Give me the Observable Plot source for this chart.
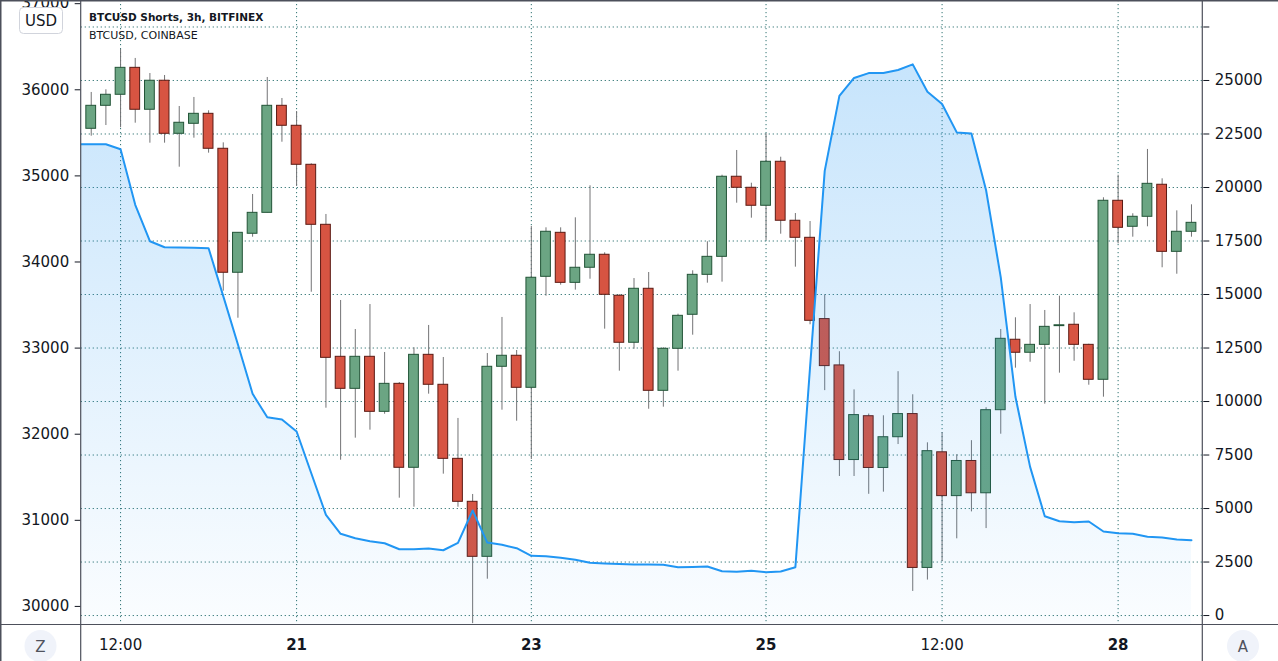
<!DOCTYPE html>
<html>
<head>
<meta charset="utf-8">
<script src="https://cdn.jsdelivr.net/npm/d3@7"></script>
<script src="https://cdn.jsdelivr.net/npm/@observablehq/plot@0.6"></script>
<style>
html, body { margin: 0; padding: 0; background: #ffffff; }
#chart { position: relative; width: 1278px; height: 661px; overflow: hidden; }
</style>
</head>
<body>
<div id="chart"></div>
<script>
// ---------- DATA ----------
// BTCUSD, COINBASE — 3h candles from 2021-01-19 06:00 UTC to 2021-01-28 15:00 UTC
const candleFirst = "2021-01-19T06:00Z";
const candleEnd = "2021-01-28T16:00Z";
const openP  = [35547,35814,35942,36255,35768,36105,35489,35605,35721,35315,33875,34328,34571,35814,35582,35129,34432,32899,32527,32899,32260,32585,31610,32922,32574,31714,31215,30576,32783,32911,32539,33828,34339,33758,33933,34084,33608,33062,33689,32504,32992,33387,33851,34060,34990,34862,34653,35164,34479,34281,33337,32799,31700,32209,31608,31965,32234,30447,31790,31281,31689,31314,32279,33097,32946,33038,33255,33271,33038,32632,34711,34409,34525,34897,34118,34351];
const highP  = [35969,36000,36468,36364,36189,36166,35806,35911,35756,35384,34339,34784,36143,35899,35748,35140,34552,33553,33216,33506,32949,32600,33004,33263,32891,32183,31300,32937,33356,32972,34412,34397,34397,34513,34885,34107,33620,33808,33878,33004,33394,33898,34235,35008,35295,34915,35490,35217,34563,34470,33618,32958,32515,32234,32214,32726,32458,31900,32019,31762,31925,32308,33216,33352,33506,33437,33603,33410,33045,34746,35008,34560,35307,34966,34594,34664];
const lowP   = [35461,35585,35559,35612,35380,35380,35101,35438,35264,33661,33347,34288,34571,35391,34877,33649,32302,31698,31954,32047,32232,31257,31152,32465,31536,31152,29800,30316,32279,32151,31706,33603,33731,33673,33800,33220,32732,32987,32290,32314,32732,33150,33754,33766,34683,34509,34250,34323,33940,33271,32506,31509,31509,31302,31327,31880,30174,30306,30521,30785,31098,30904,32000,32767,32836,32349,32709,32847,32569,32430,34211,34288,34409,33933,33858,34288];
const closeP = [35814,35942,36255,35768,36105,35489,35617,35721,35315,33875,34339,34571,35814,35582,35129,34432,32887,32527,32899,32260,32585,31610,32922,32574,31714,31215,30576,32783,32911,32539,33817,34351,33758,33933,34084,33619,33062,33689,32504,32992,33375,33851,34060,34990,34862,34653,35164,34479,34281,33317,32791,31700,32222,31608,31965,32234,30447,31803,31281,31689,31314,32279,33108,32946,33038,33247,33265,33038,32632,34711,34397,34525,34908,34118,34351,34455];

// BTCUSD Shorts, 3h, BITFINEX — from 2021-01-19 03:00 UTC
const shortsFirst = "2021-01-19T03:00Z";
const shortsValues = [22023,22023,22023,21790,19192,17491,17210,17196,17187,17164,14925,12664,10360,9266,9159,8598,6650,4706,3818,3612,3472,3379,3098,3098,3131,3051,3397,4907,3411,3304,3145,2790,2771,2696,2603,2463,2430,2407,2383,2383,2369,2257,2266,2290,2070,2042,2089,2023,2056,2260,11600,20776,24280,25117,25346,25346,25491,25752,24477,23902,22575,22528,19870,15800,10220,6945,4640,4407,4360,4393,3925,3846,3818,3678,3645,3551,3519];

// Axes
const xTickDates  = ["2021-01-19T12:00Z","2021-01-21T00:00Z","2021-01-23T00:00Z","2021-01-25T00:00Z","2021-01-26T12:00Z","2021-01-28T00:00Z"];
const xTickLabels = ["12:00","21","23","25","12:00","28"];
const priceTicks  = [30000,31000,32000,33000,34000,35000,36000,37000];
const shortsTicks = [0,2500,5000,7500,10000,12500,15000,17500,20000,22500,25000,27500];
const shortsTickLabels = ["0","2500","5000","7500","10000","12500","15000","17500","20000","22500","25000",""];

const titleMain = "BTCUSD Shorts, 3h, BITFINEX";
const titleSub = "BTCUSD, COINBASE";
const currency = "USD";

// ---------- LAYOUT ----------
const W = 1278, H = 661, ML = 80.7, MR = 75.7, MB = 37;
const xDomain = [new Date("2021-01-19T03:57Z"), new Date("2021-01-28T17:19Z")];
const yDomain = [29790, 37037];
// right (shorts) axis aligned onto the price axis
const shortsToPrice = d3.scaleLinear([0, 25000], [29894, 36108]);

const GREEN = "#6ba583", GREEN_B = "#225437", RED = "#d75442", RED_B = "#5b1a13";
const WICK = "#737375", LINE = "#2196f3", GRID = "#2f7372", AXIS = "#4d505b", TEXT = "#131722";

const candleTimes = d3.utcHour.every(3).range(new Date(candleFirst), new Date(candleEnd));
const candles = candleTimes.map((t, i) => ({t, o: openP[i], h: highP[i], l: lowP[i], c: closeP[i], up: closeP[i] >= openP[i]}));
const shortsTimes = d3.utcHour.every(3).range(new Date(shortsFirst), new Date(candleEnd));
const shorts = shortsTimes.map((t, i) => ({t, v: shortsValues[i], p: shortsToPrice(shortsValues[i])}));

const xTicks = xTickDates.map(s => new Date(s));
const xLabelOf = new Map(xTicks.map((d, i) => [+d, xTickLabels[i]]));
const dayTicks = xTicks.filter((d, i) => !xTickLabels[i].includes(":"));
const hourTicks = xTicks.filter((d, i) => xTickLabels[i].includes(":"));
const shortsTickPrices = shortsTicks.map(v => shortsToPrice(v));
const shortsLabelOf = new Map(shortsTickPrices.map((p, i) => [p, shortsTickLabels[i]]));

const gridStyle = {stroke: GRID, strokeOpacity: 1, strokeDasharray: "1.2,2.8", strokeWidth: 1};

const defsMark = () => {
  const defs = d3.create("svg:defs");
  const g = defs.append("linearGradient").attr("id", "shortsGrad")
    .attr("gradientUnits", "userSpaceOnUse").attr("x1", 0).attr("y1", 0).attr("x2", 0).attr("y2", H - MB);
  g.append("stop").attr("offset", "0%").attr("stop-color", LINE).attr("stop-opacity", 0.28);
  g.append("stop").attr("offset", "100%").attr("stop-color", LINE).attr("stop-opacity", 0.02);
  return defs.node();
};

const bodyX1 = d => d3.utcMinute.offset(d.t, -60);
const bodyX2 = d => d3.utcMinute.offset(d.t, 60);

const plot = Plot.plot({
  width: W, height: H,
  marginLeft: ML, marginRight: MR, marginTop: 0, marginBottom: MB,
  style: {fontFamily: "DejaVu Sans", fontSize: "15px", color: TEXT, background: "#ffffff"},
  x: {type: "utc", domain: xDomain},
  y: {domain: yDomain},
  marks: [
    defsMark,
    Plot.gridY({ticks: shortsTickPrices, ...gridStyle}),
    Plot.gridX({ticks: xTicks, ...gridStyle}),
    Plot.ruleX(candles, {x: "t", y1: "l", y2: "h", stroke: WICK, strokeWidth: 1, clip: true}),
    Plot.rect(candles, {filter: d => d.up, x1: bodyX1, x2: bodyX2, y1: "o", y2: "c", fill: GREEN, stroke: GREEN_B, strokeWidth: 1}),
    Plot.rect(candles, {filter: d => !d.up, x1: bodyX1, x2: bodyX2, y1: "o", y2: "c", fill: RED, stroke: RED_B, strokeWidth: 1}),
    Plot.areaY(shorts, {x: "t", y1: yDomain[0], y2: "p", fill: "url(#shortsGrad)", clip: true}),
    Plot.lineY(shorts, {x: "t", y: "p", stroke: LINE, strokeWidth: 2, clip: true}),
    Plot.axisY({anchor: "left", ticks: priceTicks, tickFormat: d3.format("d"), tickSize: 6, tickPadding: 6, label: null, color: TEXT}),
    Plot.axisY({anchor: "right", ticks: shortsTickPrices, tickFormat: d => shortsLabelOf.get(d), tickSize: 6, tickPadding: 6, label: null, color: TEXT}),
    Plot.axisX({ticks: dayTicks, tickFormat: d => xLabelOf.get(+d), tickSize: 0, tickPadding: 15, label: null, fontWeight: "bold", color: TEXT}),
    Plot.axisX({ticks: hourTicks, tickFormat: d => xLabelOf.get(+d), tickSize: 0, tickPadding: 15, label: null, color: TEXT})
  ]
});

// ---------- DECORATIONS (chart frame, legend, buttons) ----------
const svg = d3.select(plot);
const deco = svg.append("g").attr("text-anchor", "start");
const plotBottom = H - MB, plotRight = W - MR;
deco.append("line").attr("x1", 0).attr("x2", W).attr("y1", plotBottom + 0.5).attr("y2", plotBottom + 0.5).attr("stroke", AXIS).attr("stroke-width", 1.2);
deco.append("line").attr("x1", ML).attr("x2", ML).attr("y1", 0).attr("y2", H).attr("stroke", AXIS).attr("stroke-width", 1.2);
deco.append("line").attr("x1", plotRight).attr("x2", plotRight).attr("y1", 0).attr("y2", H).attr("stroke", AXIS).attr("stroke-width", 1.2);
deco.append("line").attr("x1", 0).attr("x2", W).attr("y1", 0.75).attr("y2", 0.75).attr("stroke", AXIS).attr("stroke-width", 1.5);
deco.append("line").attr("x1", 0.75).attr("x2", 0.75).attr("y1", 0).attr("y2", H).attr("stroke", AXIS).attr("stroke-width", 1.5);

// currency box
deco.append("rect").attr("x", 19.5).attr("y", 7.5).attr("width", 43).attr("height", 26).attr("rx", 4)
  .attr("fill", "#ffffff").attr("stroke", "#d1d4dc");
deco.append("text").attr("x", 41).attr("y", 26).attr("text-anchor", "middle")
  .attr("font-family", "DejaVu Sans").attr("font-size", 15).attr("fill", TEXT).text(currency);

// legend
deco.append("text").attr("x", 89).attr("y", 21).attr("text-anchor", "start").attr("font-family", "DejaVu Sans").attr("font-weight", "bold")
  .attr("font-size", 10.5).attr("fill", TEXT).text(titleMain);
deco.append("text").attr("x", 89).attr("y", 38.5).attr("text-anchor", "start").attr("font-family", "DejaVu Sans")
  .attr("font-size", 11).attr("fill", TEXT).text(titleSub);

// corner buttons
for (const [cx, label] of [[40.5, "Z"], [1243, "A"]]) {
  deco.append("circle").attr("cx", cx).attr("cy", 646).attr("r", 16).attr("fill", "#f0f3fa");
  deco.append("text").attr("x", cx).attr("y", 651.5).attr("text-anchor", "middle")
    .attr("font-family", "DejaVu Sans").attr("font-size", 15).attr("fill", "#50535e").text(label);
}

document.getElementById("chart").appendChild(plot);
</script>
</body>
</html>
